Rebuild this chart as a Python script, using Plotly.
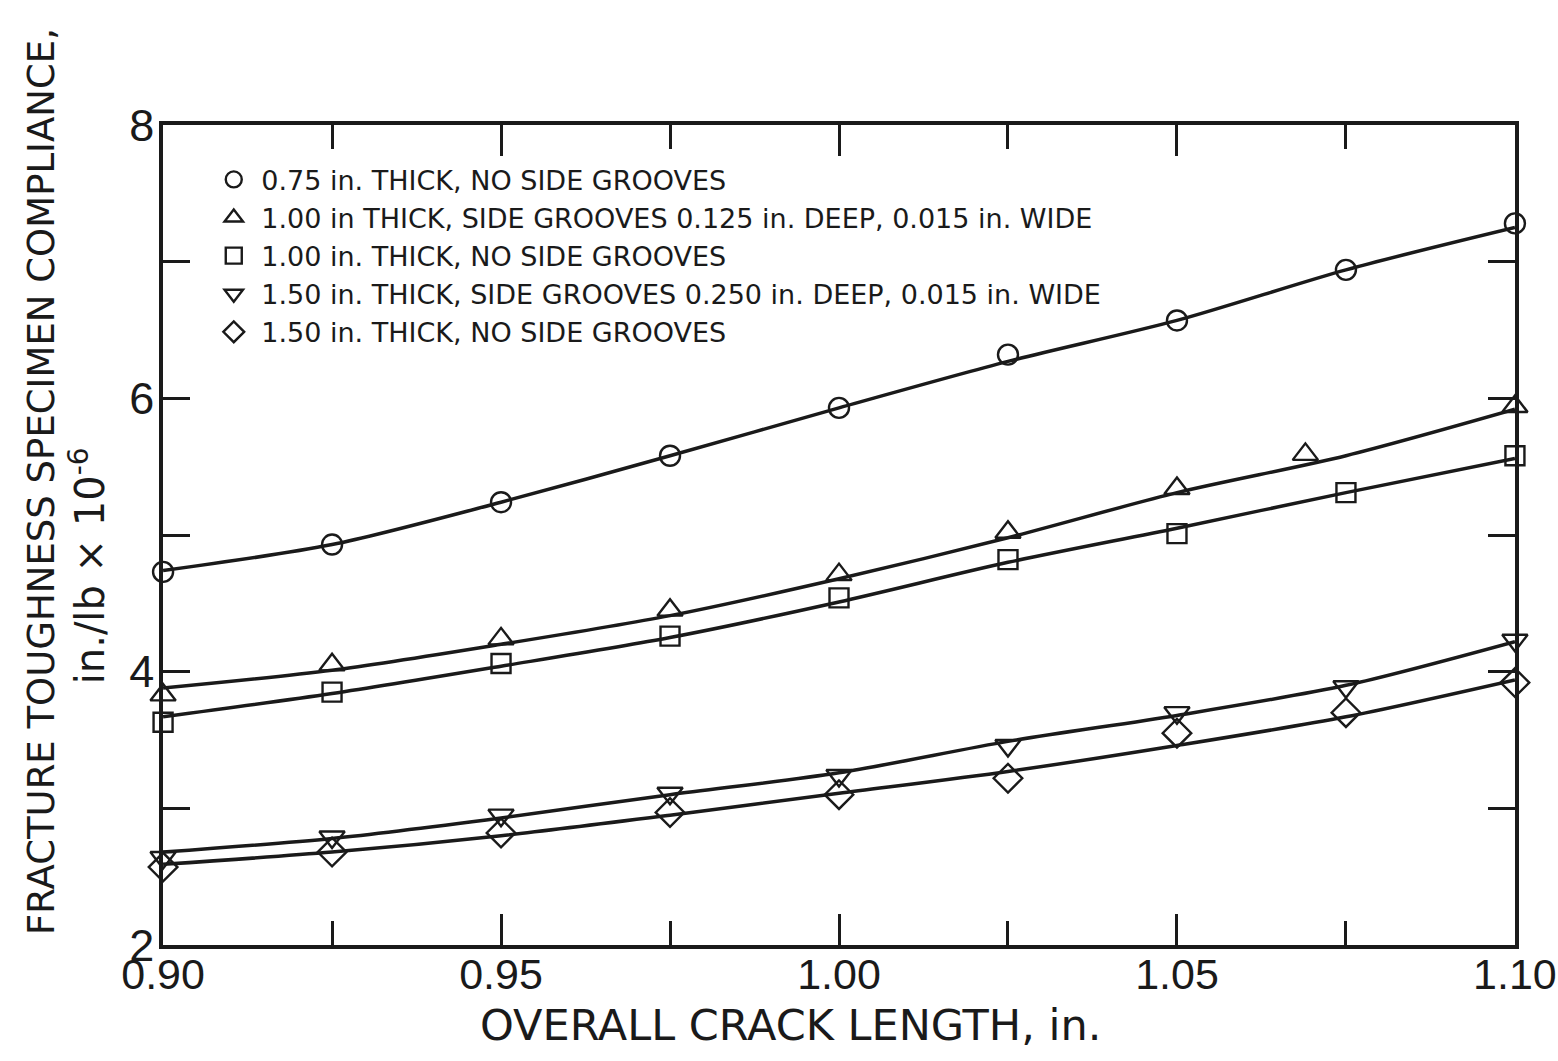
import plotly.graph_objects as go

# ---- data ----
x_pts = [0.90, 0.925, 0.95, 0.975, 1.00, 1.025, 1.05, 1.075, 1.10]
x_tri = [0.90, 0.925, 0.95, 0.975, 1.00, 1.025, 1.05, 1.069, 1.10]

circ_y = [4.73, 4.93, 5.24, 5.58, 5.93, 6.32, 6.57, 6.94, 7.28]
tri_up_y = [3.83, 4.05, 4.24, 4.45, 4.71, 5.02, 5.34, 5.59, 5.94]
sq_y = [3.63, 3.85, 4.06, 4.26, 4.54, 4.82, 5.01, 5.31, 5.58]
tri_dn_y = [2.64, 2.79, 2.95, 3.11, 3.24, 3.46, 3.70, 3.89, 4.23]
dia_y = [2.57, 2.68, 2.82, 2.97, 3.10, 3.22, 3.55, 3.70, 3.92]

# fitted curves
x_fit = [0.90, 0.925, 0.95, 0.975, 1.00, 1.025, 1.05, 1.075, 1.10]
circ_fit = [4.74, 4.93, 5.24, 5.58, 5.93, 6.27, 6.57, 6.94, 7.25]
tri_up_fit = [3.88, 4.01, 4.20, 4.41, 4.68, 4.98, 5.31, 5.58, 5.92]
sq_fit = [3.67, 3.84, 4.04, 4.25, 4.51, 4.80, 5.05, 5.31, 5.56]
tri_dn_fit = [2.68, 2.78, 2.93, 3.10, 3.26, 3.49, 3.68, 3.90, 4.22]
dia_fit = [2.59, 2.68, 2.80, 2.95, 3.11, 3.27, 3.46, 3.67, 3.94]

labels = [
    "0.75 in. THICK, NO SIDE GROOVES",
    "1.00 in THICK, SIDE GROOVES 0.125 in. DEEP, 0.015 in. WIDE",
    "1.00 in. THICK, NO SIDE GROOVES",
    "1.50 in. THICK, SIDE GROOVES 0.250 in. DEEP, 0.015 in. WIDE",
    "1.50 in. THICK, NO SIDE GROOVES",
]
symbols = ["circle-open", "triangle-up-open", "square-open", "triangle-down-open", "diamond-open"]
x_tick_vals = [0.90, 0.95, 1.00, 1.05, 1.10]
x_tick_text = ["0.90", "0.95", "1.00", "1.05", "1.10"]
x_minor_vals = [0.925, 0.975, 1.025, 1.075]
y_tick_vals = [2, 3, 4, 5, 6, 7, 8]
y_tick_text = ["2", "", "4", "", "6", "", "8"]

INK = "#1a1a1a"
FONT = "DejaVu Sans"
TICKFONT = "Liberation Sans"

fig = go.Figure()

series = [
    (x_pts, circ_y, circ_fit, 20),
    (x_tri, tri_up_y, tri_up_fit, 22),
    (x_pts, sq_y, sq_fit, 19),
    (x_pts, tri_dn_y, tri_dn_fit, 22),
    (x_pts, dia_y, dia_fit, 22),
]

for (xs, ys, fit, msz) in series:
    fig.add_trace(go.Scatter(
        x=x_fit, y=fit, mode="lines",
        line=dict(color=INK, width=3.5, shape="spline", smoothing=0.8),
        showlegend=False, hoverinfo="skip", cliponaxis=False,
    ))

for (xs, ys, fit, msz), lab, sym in zip(series, labels, symbols):
    fig.add_trace(go.Scatter(
        x=xs, y=ys, mode="markers", name=lab,
        marker=dict(symbol=sym, size=msz, color=INK,
                    line=dict(color=INK, width=2.4)),
        cliponaxis=False,
    ))

fig.update_layout(
    width=1558, height=1061,
    margin=dict(l=163, r=43, t=125, b=116, autoexpand=False),
    paper_bgcolor="white", plot_bgcolor="white",
    font=dict(family=FONT, color=INK),
    legend=dict(
        x=0.032, y=0.963, xanchor="left", yanchor="top",
        font=dict(size=27, family=FONT, color=INK),
        bgcolor="rgba(0,0,0,0)", borderwidth=0,
        itemsizing="trace", itemwidth=45, tracegroupgap=0,
    ),
    xaxis=dict(
        range=[0.89999, 1.10001], tickvals=x_tick_vals, ticktext=x_tick_text,
        ticks="inside", ticklen=31, tickwidth=2.5, tickcolor=INK,
        minor=dict(tickvals=x_minor_vals, ticks="inside",
                   ticklen=24, tickwidth=2.5, tickcolor=INK, showgrid=False),
        showline=True, linewidth=3.5, linecolor=INK, mirror="ticks",
        showgrid=False, zeroline=False, automargin=False,
        tickfont=dict(size=43, family=TICKFONT, color=INK),
        ticklabelstandoff=-11, ticklabeloverflow="allow",
    ),
    yaxis=dict(
        range=[2, 8], tickvals=y_tick_vals, ticktext=y_tick_text,
        ticks="inside", ticklen=27, tickwidth=2.5, tickcolor=INK,
        showline=True, linewidth=3.5, linecolor=INK, mirror="ticks",
        showgrid=False, zeroline=False, automargin=False,
        tickfont=dict(size=45, family=TICKFONT, color=INK),
        ticklabelstandoff=-4,
    ),
)

fig.add_annotation(
    text="OVERALL CRACK LENGTH, in.", xref="paper", yref="paper",
    x=0.4638, y=-0.097, xanchor="center", yanchor="middle",
    showarrow=False, font=dict(size=43, family=FONT, color=INK),
)
fig.add_annotation(
    text="FRACTURE TOUGHNESS SPECIMEN COMPLIANCE,", xref="paper", yref="paper",
    x=-0.090, y=0.565, xanchor="center", yanchor="middle", textangle=-90,
    showarrow=False, font=dict(size=37, family=FONT, color=INK),
)
fig.add_annotation(
    text="in./lb × 10<sup>-6</sup>", xref="paper", yref="paper",
    x=-0.0555, y=0.463, xanchor="center", yanchor="middle", textangle=-90,
    showarrow=False, font=dict(size=40, family=FONT, color=INK),
)

fig.write_html("out.html")
